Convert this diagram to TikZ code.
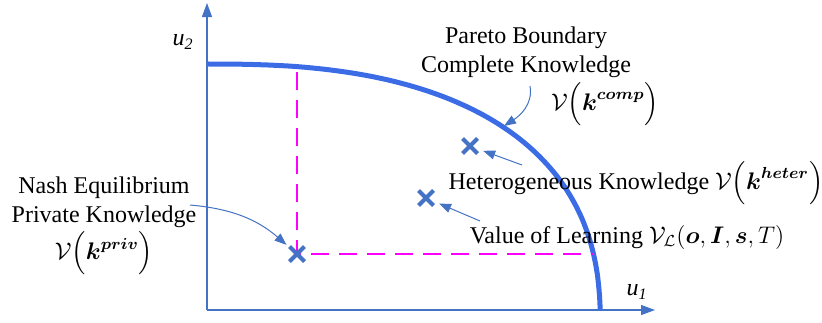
\documentclass[tikz,border=0pt]{standalone}
\usepackage{fontspec}
\setmainfont{Liberation Serif}
\usepackage{amsmath}
\usetikzlibrary{arrows.meta, shapes.misc}
\definecolor{myblue}{RGB}{68,114,196}
\definecolor{curveblue}{RGB}{59,108,230}
\definecolor{mymagenta}{RGB}{255,0,255}
\tikzset{
  axis/.style={-{Triangle[length=7pt,width=5pt]}, line width=0.6pt, color=myblue},
  boundary/.style={line width=2.5pt, color=curveblue},
  guide/.style={line width=1.4pt, color=mymagenta, dash pattern=on 9pt off 5pt},
  crossmark/.style={cross out, draw=myblue, line width=2pt, minimum size=5.5pt, inner sep=0pt},
  pointer/.style={-{Triangle[length=6pt,width=4.5pt]}, line width=0.5pt, color=myblue},
  txt/.style={font=\fontsize{12}{14.5}\selectfont, align=center, inner sep=1pt}
}

\begin{document}
\begin{tikzpicture}[x=0.5pt, y=-0.5pt]
  \useasboundingbox (0,0) rectangle (822,322);

  % Axes
  \draw[axis] (207,310) -- (207,3);
  \draw[axis] (207,310) -- (655,310);
  \node[txt] (u2) at (183,42) {\textit{u}\textsubscript{\textit{2}}};
  \node[txt] (u1) at (637,292) {\textit{u}\textsubscript{\textit{1}}};

  % Pareto boundary
  \draw[boundary] plot[domain=2.25:90, samples=80, variable=\t]
    ({207+393.4*abs(cos(\t))^0.8}, {330-266*abs(sin(\t))^0.8});

  % Nash point and its guides
  \coordinate (nashtop) at (297,72);
  \coordinate (nashright) at (593,254);
  \draw[guide] (nashtop) -- (297,254) -- (nashright);

  \node[crossmark] (nash) at (297,254) {};
  \node[crossmark] (heter) at (470,146) {};
  \node[crossmark] (learn) at (426,198) {};

  % Labels
  \node[txt] (pareto) at (526,52) {Pareto Boundary\\Complete Knowledge};
  \node[txt] (vcomp) at (605,104) {$\mathcal{V}\Big(\boldsymbol{k}^{\boldsymbol{comp}}\Big)$};
  \node[txt] (heterlbl) at (636,183) {Heterogeneous Knowledge $\mathcal{V}\Big(\boldsymbol{k}^{\boldsymbol{heter}}\Big)$};
  \node[txt] (learnlbl) at (627,237) {Value of Learning $\mathcal{V}_{\mathcal{L}}(\boldsymbol{o},\boldsymbol{I},\boldsymbol{s},T)$};
  \node[txt] (nashlbl) at (104,226) {Nash Equilibrium\\Private Knowledge\\[1pt]$\mathcal{V}\Big(\boldsymbol{k}^{\boldsymbol{priv}}\Big)$};

  % Pointers
  \coordinate (compfrom) at (530,86);
  \coordinate (compto) at (504,126);
  \coordinate (heterfrom) at (522,165);
  \coordinate (learnfrom) at (480,221);
  \coordinate (nashfrom) at (190,205);
  \draw[pointer] (compfrom) to[out=-80, in=33] (compto);
  \draw[pointer, shorten >=3pt] (heterfrom) -- (heter);
  \draw[pointer, shorten >=3pt] (learnfrom) -- (learn);
  \draw[pointer, shorten >=2pt] (nashfrom) to[out=-5, in=139] (nash);
\end{tikzpicture}
\end{document}
